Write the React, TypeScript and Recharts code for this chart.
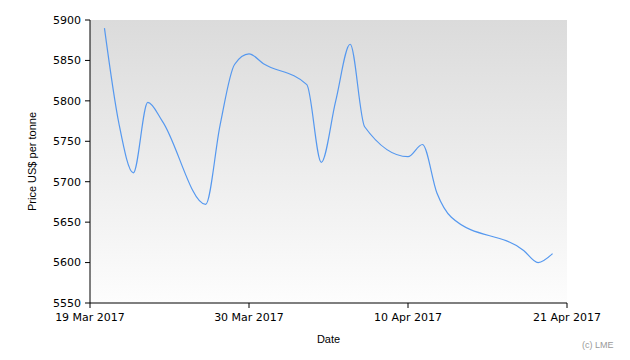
import { LineChart, Line, XAxis, YAxis, CartesianGrid, Label } from "recharts";

// days counted from 19 Mar 2017
const DAY_OFFSETS = [1, 2, 3, 4, 5, 8, 9, 10, 11, 12, 15, 16, 17, 18, 19, 22, 23, 24, 25, 30, 31, 32];
const PRICES = [
  5890, 5772, 5711, 5798, 5775, 5672, 5770, 5845, 5858, 5846, 5820, 5724, 5800, 5870, 5768,
  5731, 5746, 5686, 5656, 5615, 5600, 5611,
];
const X_TICKS = [0, 11, 22, 33];
const X_TICK_LABELS = ["19 Mar 2017", "30 Mar 2017", "10 Apr 2017", "21 Apr 2017"];
const Y_TICKS = [5550, 5600, 5650, 5700, 5750, 5800, 5850, 5900];

const data = DAY_OFFSETS.map((d, i) => ({ day: d, price: PRICES[i] }));

const tickStyle = { fontFamily: "DejaVu Sans", fontSize: 11, fill: "#000" };

export default function App() {
  return (
    <div style={{ position: "absolute", left: 0, top: 0, width: 630, height: 360, background: "#fff" }}>
      <LineChart
        width={630}
        height={360}
        data={data}
        margin={{ top: 20, right: 63, bottom: 0, left: 0 }}
      >
        <defs>
          <linearGradient id="plotBg" x1="0" y1="0" x2="0" y2="1">
            <stop offset="0%" stopColor="#dbdbdb" />
            <stop offset="100%" stopColor="#fdfdfd" />
          </linearGradient>
        </defs>
        <CartesianGrid horizontal={false} vertical={false} fill="url(#plotBg)" />
        <XAxis
          dataKey="day"
          type="number"
          domain={[0, 33]}
          ticks={X_TICKS}
          tickFormatter={(v: number) => X_TICK_LABELS[X_TICKS.indexOf(v)]}
          tick={tickStyle}
          tickSize={5}
          tickMargin={5}
          stroke="#000"
          height={57}
          interval={0}
        >
          <Label value="Date" position="insideTop" offset={32} style={{ fontFamily: "Liberation Sans", fontSize: 11, fill: "#000" }} />
        </XAxis>
        <YAxis
          type="number"
          domain={[5550, 5900]}
          ticks={Y_TICKS}
          tick={tickStyle}
          tickSize={5}
          tickMargin={4}
          stroke="#000"
          width={90}
          interval={0}
        >
          <Label
            value="Price US$ per tonne"
            angle={-90}
            position="insideLeft"
            offset={32}
            style={{ fontFamily: "Liberation Sans", fontSize: 11, fill: "#000", textAnchor: "middle" }}
          />
        </YAxis>
        <Line
          type="monotone"
          dataKey="price"
          stroke="#5598ef"
          strokeWidth={1.2}
          dot={false}
          activeDot={false}
          isAnimationActive={false}
        />
        <text x={582} y={348} fontFamily="Liberation Sans" fontSize={9} fill="#999">
          (c) LME
        </text>
      </LineChart>
    </div>
  );
}
